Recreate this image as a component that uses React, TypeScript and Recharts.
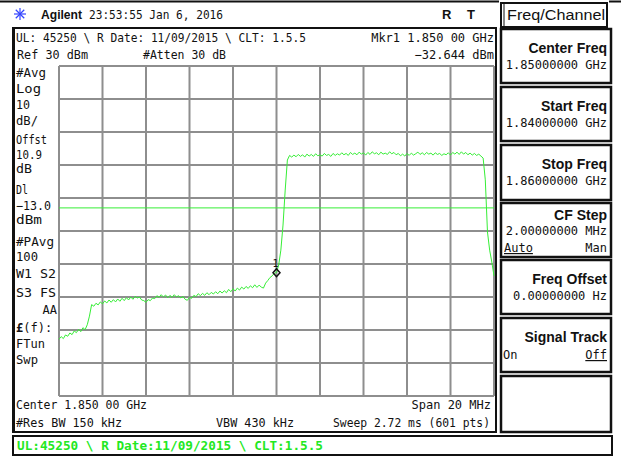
import React from "react";
import {
  LineChart, Line, XAxis, YAxis, CartesianGrid, ReferenceLine, ReferenceDot,
} from "recharts";

// ---- sweep settings (Center 1.850 GHz, Span 20 MHz) ----------------------
const START_MHZ = 1840;
const STEP_MHZ = 0.1;
const FREQ_TICKS = [1840, 1842, 1844, 1846, 1848, 1850, 1852, 1854, 1856, 1858, 1860];
const LEVEL_TICKS = [-70, -60, -50, -40, -30, -20, -10, 0, 10, 20, 30];
const DISPLAY_LINE_DBM = -13;
const MARKER_MHZ = 1850;
const MARKER_DBM = -32.644;

// trace, dBm, every 0.1 MHz
const TRACE_DBM = [
  -52.8, -52.0, -52.6, -51.5, -51.9, -50.9, -51.4, -50.3, -50.8, -49.8,
  -50.5, -49.3, -49.9, -48.4, -45.8, -42.3, -42.8, -41.9, -42.4, -41.5,
  -42.1, -41.2, -41.8, -40.9, -41.6, -40.8, -41.5, -40.6, -41.3, -40.4,
  -41.1, -40.2, -40.9, -40.0, -40.7, -39.8, -40.3, -40.0, -40.9, -41.1,
  -41.6, -40.8, -41.1, -40.3, -40.5, -39.6, -40.1, -39.3, -40.0, -39.4,
  -40.2, -39.5, -40.1, -39.3, -40.0, -39.6, -40.3, -39.8, -40.7, -41.0,
  -40.1, -40.4, -39.5, -39.9, -39.0, -39.6, -38.9, -39.5, -38.7, -39.3,
  -38.6, -39.1, -38.4, -39.0, -38.2, -38.8, -38.1, -38.7, -37.7, -38.4,
  -37.5, -38.2, -37.3, -37.9, -37.0, -37.6, -36.8, -37.4, -36.6, -37.2,
  -36.3, -37.1, -36.4, -37.0, -37.3, -35.8, -35.0, -34.1, -33.6, -32.8,
  -32.6, -30.3, -25.8, -18.2, -7.6, 1.5, 2.9, 2.4, 3.0, 2.5,
  3.2, 2.6, 3.1, 2.4, 3.3, 2.7, 3.2, 2.6, 3.4, 2.8,
  3.1, 2.7, 3.5, 2.9, 3.2, 2.6, 3.5, 2.9, 3.4, 3.0,
  3.7, 3.1, 3.5, 2.9, 3.8, 3.2, 3.6, 3.1, 3.9, 3.3,
  3.7, 3.0, 3.8, 3.2, 4.0, 3.4, 3.7, 3.1, 3.9, 3.3,
  3.6, 3.2, 4.0, 3.4, 3.8, 3.1, 3.5, 2.8, 3.3, 2.7,
  3.5, 2.9, 3.6, 3.0, 3.4, 3.9, 3.2, 3.7, 3.1, 3.8,
  3.3, 3.6, 3.0, 3.7, 3.2, 3.5, 2.9, 3.4, 3.1, 3.7,
  3.0, 3.8, 3.3, 3.9, 3.2, 4.0, 3.3, 3.8, 3.1, 3.6,
  3.0, 3.5, 2.9, 3.3, 2.7, 2.1, -4.5, -20.3, -25.8, -29.4,
  -33.6,
];

const data = TRACE_DBM.map((v, i) => ({
  f: Math.round((START_MHZ + i * STEP_MHZ) * 10) / 10,
  v,
}));

const MONO = "'DejaVu Sans Mono', monospace";
const SANS = "'Liberation Sans', Arial, sans-serif";
const GREEN = "#36ee36";

// grid lines follow the axis scales (one per division)
const vGrid = ({ xAxis, offset }: any) =>
  FREQ_TICKS.map((t) =>
    xAxis && typeof xAxis.scale === "function"
      ? xAxis.scale(t)
      : offset.left + ((t - FREQ_TICKS[0]) / (FREQ_TICKS[FREQ_TICKS.length - 1] - FREQ_TICKS[0])) * offset.width
  );
const hGrid = ({ yAxis, offset }: any) =>
  LEVEL_TICKS.map((t) =>
    yAxis && typeof yAxis.scale === "function"
      ? yAxis.scale(t)
      : offset.top + ((LEVEL_TICKS[LEVEL_TICKS.length - 1] - t) / (LEVEL_TICKS[LEVEL_TICKS.length - 1] - LEVEL_TICKS[0])) * offset.height
  );

// small text helper for the instrument screen
function T({ x, y, children, size = 12, bold = false, anchor = "start", len, fill = "#111", family = MONO, deco }: any) {
  return (
    <text
      x={x} y={y}
      fontSize={size}
      fontWeight={bold ? 700 : 400}
      fontFamily={family}
      textAnchor={anchor}
      fill={fill}
      textLength={len}
      lengthAdjust={len ? "spacingAndGlyphs" : undefined}
      textDecoration={deco}
    >
      {children}
    </text>
  );
}

const SOFTKEYS = [
  { top: 29, bottom: 83, title: "Center Freq", value: "1.85000000 GHz" },
  { top: 87, bottom: 141, title: "Start Freq", value: "1.84000000 GHz" },
  { top: 145, bottom: 200, title: "Stop Freq", value: "1.86000000 GHz" },
  { top: 203, bottom: 257, title: "CF Step", value: "2.00000000 MHz" },
  { top: 260, bottom: 314, title: "Freq Offset", value: "0.00000000  Hz" },
  { top: 318, bottom: 372, title: "Signal Track", value: "" },
  { top: 376, bottom: 432, title: "", value: "" },
];

const LEFT_NOTES = [
  { t: "#Avg", y: 77, w: 30 },
  { t: "Log", y: 93, w: 25 },
  { t: "10", y: 109, w: 14 },
  { t: "dB/", y: 125, w: 22 },
  { t: "Offst", y: 144, w: 31 },
  { t: "10.9", y: 159, w: 26 },
  { t: "dB", y: 173, w: 16 },
  { t: "Dl", y: 194, w: 12 },
  { t: "\u221213.0", y: 210, w: 35 },
  { t: "dBm", y: 224, w: 26 },
  { t: "#PAvg", y: 246, w: 38 },
  { t: "100", y: 261, w: 22 },
  { t: "W1  S2", y: 278, w: 40 },
  { t: "S3  FS", y: 297, w: 40 },
  { t: "FTun", y: 348, w: 29 },
  { t: "Swp", y: 364, w: 22 },
];

function Diamond(props: any) {
  const { cx, cy } = props;
  return (
    <g>
      <polygon
        points={`${cx},${cy - 4} ${cx + 3.5},${cy} ${cx},${cy + 4} ${cx - 3.5},${cy}`}
        fill="none" stroke="#111" strokeWidth={1.5}
      />
      <text x={cx - 1} y={cy - 6} fontSize={10} fontFamily={MONO} textAnchor="middle" fill="#111">1</text>
    </g>
  );
}

function Screen() {
  return (
    <svg width={621} height={456} style={{ position: "absolute", left: 0, top: 0, pointerEvents: "none" }}>
      {/* top bar */}
      <line x1={0} y1={1.5} x2={499} y2={1.5} stroke="#111" strokeWidth={2} />
      <line x1={609} y1={1.5} x2={621} y2={1.5} stroke="#111" strokeWidth={2} />
      <g stroke="#3344ff" strokeWidth={1.2}>
        {[0, 45, 90, 135].map((a) => {
          const r = (a * Math.PI) / 180;
          return <line key={a} x1={20 - 6 * Math.cos(r)} y1={14 - 6 * Math.sin(r)} x2={20 + 6 * Math.cos(r)} y2={14 + 6 * Math.sin(r)} />;
        })}
      </g>
      <T x={41} y={19} size={12.5} bold family={SANS} len={41}>Agilent</T>
      <T x={89} y={19} size={13} len={134}>23:53:55  Jan 6, 2016</T>
      <T x={442} y={19} size={13} bold family={SANS}>R</T>
      <T x={467} y={19} size={13} bold family={SANS}>T</T>

      {/* Freq/Channel title */}
      <rect x={501} y={3} width={106} height={24} fill="none" stroke="#111" strokeWidth={2} />
      <line x1={504} y1={3} x2={504} y2={27} stroke="#111" strokeWidth={1} />
      <T x={507} y={20} size={14} len={98} family={SANS}>Freq/Channel</T>

      {/* main panel */}
      <rect x={13} y={28} width={483} height={404} fill="none" stroke="#111" strokeWidth={2} />
      <line x1={13.5} y1={28} x2={13.5} y2={432} stroke="#111" strokeWidth={3} />

      <T x={16} y={42} len={290}>UL: 45250 \ R Date: 11/09/2015 \ CLT: 1.5.5</T>
      <T x={17} y={59} len={71}>Ref 30 dBm</T>
      <T x={143} y={59} len={83}>#Atten 30 dB</T>
      <T x={494} y={42} anchor="end">Mkr1 1.850 00 GHz</T>
      <T x={494} y={59} anchor="end">{"\u221232.644 dBm"}</T>

      {LEFT_NOTES.map((n) => (
        <T key={n.t + n.y} x={16} y={n.y} len={n.w}>{n.t}</T>
      ))}
      <T x={57} y={314} anchor="end">AA</T>
      <text x={16} y={332} fontSize={12} fontFamily={MONO} fill="#111">
        <tspan fontWeight={700}>£</tspan>(f):
      </text>

      <T x={16} y={409} len={131}>Center 1.850 00 GHz</T>
      <T x={16} y={427} len={106}>#Res BW 150 kHz</T>
      <T x={216} y={427} len={78}>VBW 430 kHz</T>
      <T x={491} y={409} anchor="end">Span 20 MHz</T>
      <T x={333} y={427} len={157}>Sweep 2.72 ms (601 pts)</T>

      {/* soft keys */}
      {SOFTKEYS.map((k) => (
        <g key={k.top}>
          <rect x={501} y={k.top} width={110} height={k.bottom - k.top} fill="none" stroke="#111" strokeWidth={2.5} />
          {k.title === "CF Step" ? (
            <>
              <T x={607} y={k.top + 17} size={14} bold family={SANS} anchor="end">{k.title}</T>
              <T x={607} y={k.top + 32} anchor="end">{k.value}</T>
              <T x={504} y={k.top + 49} deco="underline">Auto</T>
              <T x={607} y={k.top + 49} anchor="end">Man</T>
            </>
          ) : k.title === "Signal Track" ? (
            <>
              <T x={607} y={k.top + 24} size={14} bold family={SANS} anchor="end">{k.title}</T>
              <T x={503} y={k.top + 41}>On</T>
              <T x={607} y={k.top + 41} anchor="end" deco="underline">Off</T>
            </>
          ) : k.title ? (
            <>
              <T x={607} y={k.top + 24} size={14} bold family={SANS} anchor="end">{k.title}</T>
              <T x={607} y={k.top + 40} anchor="end">{k.value}</T>
            </>
          ) : null}
        </g>
      ))}

      {/* status line */}
      <rect x={13} y={436} width={599} height={19} fill="none" stroke="#111" strokeWidth={2} />
      <T x={17} y={450} size={13} bold fill="#22e822" len={306}>UL:45250 \ R Date:11/09/2015 \ CLT:1.5.5</T>
    </svg>
  );
}

export default function App() {
  return (
    <div style={{ position: "absolute", left: 0, top: 0, width: 621, height: 456, background: "#fff", overflow: "hidden" }}>
      <LineChart
        width={621}
        height={456}
        data={data}
        margin={{ top: 66, right: 127, bottom: 60, left: 59 }}
      >
        <XAxis
          dataKey="f" type="number" domain={[1840, 1860]} ticks={FREQ_TICKS}
          tick={false} axisLine={false} tickLine={false} height={0}
        />
        <YAxis
          type="number" domain={[-70, 30]} ticks={LEVEL_TICKS}
          tick={false} axisLine={false} tickLine={false} width={0}
        />
        <CartesianGrid
          stroke="#8e8e8e" strokeWidth={2}
          verticalCoordinatesGenerator={vGrid}
          horizontalCoordinatesGenerator={hGrid}
        />
        <ReferenceLine y={DISPLAY_LINE_DBM} stroke={GREEN} strokeWidth={1} />
        <Line
          type="linear" dataKey="v" stroke={GREEN} strokeWidth={1}
          dot={false} isAnimationActive={false}
        />
        <ReferenceDot x={MARKER_MHZ} y={MARKER_DBM} r={4} shape={Diamond} />
      </LineChart>
      <Screen />
    </div>
  );
}
